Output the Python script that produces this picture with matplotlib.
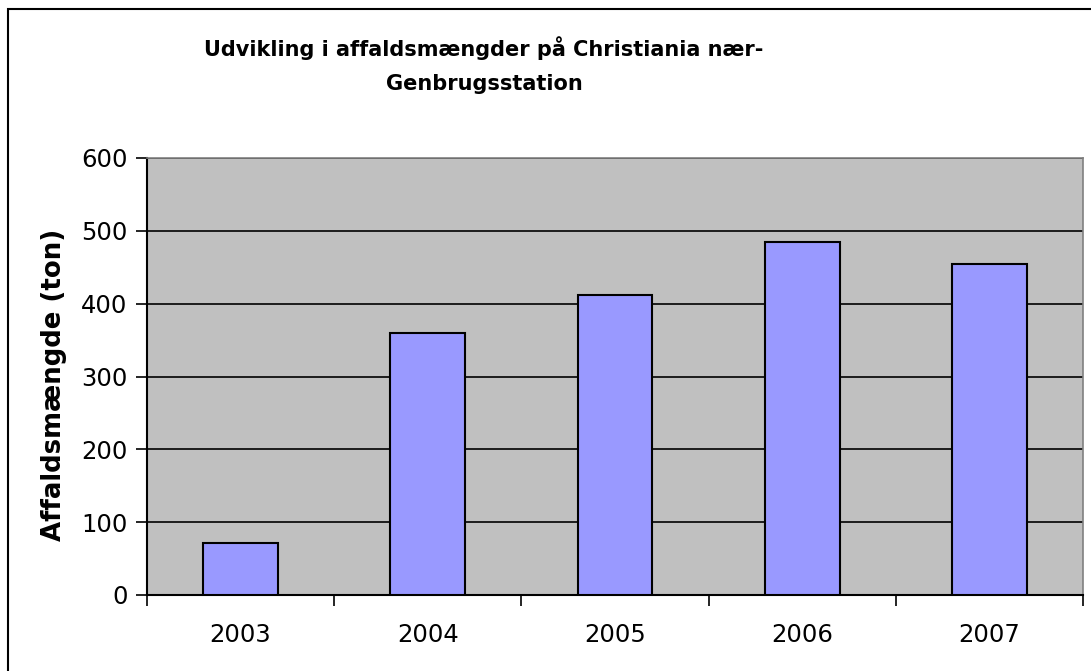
import matplotlib.pyplot as plt
import numpy as np
from matplotlib.patches import Rectangle

# data
years = ['2003', '2004', '2005', '2006', '2007']
tons = [72, 360, 412, 484, 454]
yticks = [0, 100, 200, 300, 400, 500, 600]

W, H = 1091, 671
fig = plt.figure(figsize=(W/100, H/100), dpi=100)
fig.patch.set_facecolor('white')

# outer chart border (extends past the picture on the right/bottom)
fig.patches.append(Rectangle((8/W, -0.1), 1.2, 1 - 9/H + 0.1, transform=fig.transFigure,
                             fill=False, edgecolor='black', linewidth=1.5))

# plot area 147..1083 x 158..595 px
ax = fig.add_axes([147/W, 1 - 595/H, (1083-147)/W, (595-158)/H])
ax.set_facecolor('#C0C0C0')

x = np.arange(len(years))
ax.bar(x, tons, width=0.4, color='#9999FF', edgecolor='black', linewidth=1.5, zorder=3)

ax.set_xlim(-0.5, len(years) - 0.5)
ax.set_ylim(0, 600)
ax.set_yticks(yticks)
ax.set_yticklabels([str(t) for t in yticks])
ax.yaxis.grid(True, color='black', linewidth=1.2, zorder=1)
ax.set_axisbelow(True)

# category labels centred under bars, ticks between categories
ax.set_xticks(np.arange(-0.5, len(years)), minor=False)
ax.set_xticklabels([])
ax.set_xticks(x, minor=True)
ax.set_xticklabels(years, minor=True)
ax.tick_params(axis='x', which='minor', length=0, pad=20, labelsize=17.5)
ax.tick_params(axis='x', which='major', length=8, width=1.2, direction='out')
ax.tick_params(axis='y', length=8, width=1.2, direction='out', pad=6, labelsize=17.5)

for s in ['left', 'bottom']:
    ax.spines[s].set_color('black')
    ax.spines[s].set_linewidth(1.5)
for s in ['top', 'right']:
    ax.spines[s].set_color('#808080')
    ax.spines[s].set_linewidth(1.2)

fig.text(484/W, 1 - 65/H, 'Udvikling i affaldsmængder på Christiania nær-\nGenbrugsstation',
         ha='center', va='center', fontsize=15, fontweight='bold', linespacing=1.9)
fig.text(54/W, 1 - 385/H, 'Affaldsmængde (ton)', rotation=90, ha='center', va='center',
         fontsize=18.7, fontweight='bold')

fig.savefig('out.png', dpi=100)
